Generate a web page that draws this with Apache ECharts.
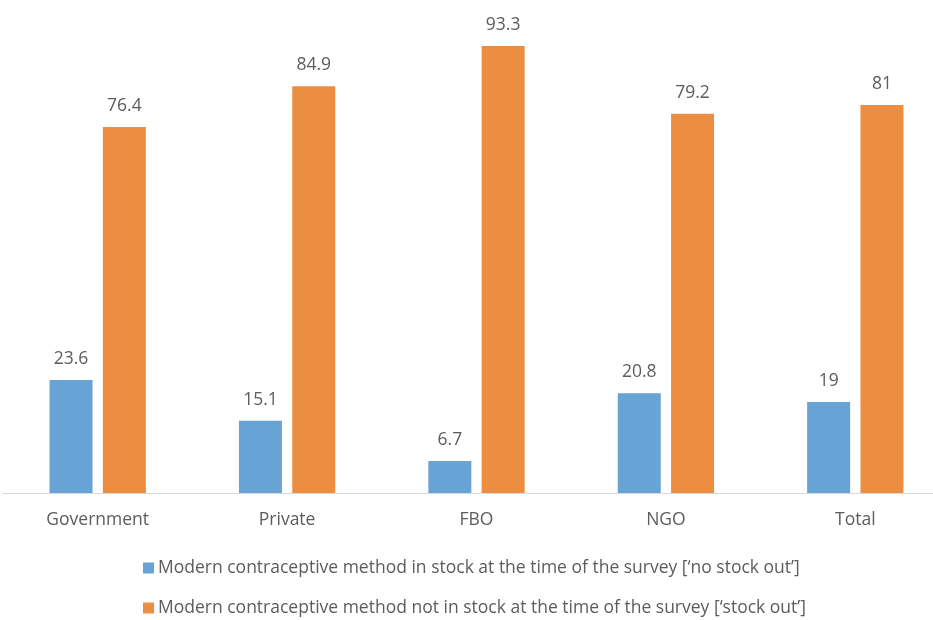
<!DOCTYPE html>
<html>
<head>
<meta charset="utf-8">
<script src="https://cdn.jsdelivr.net/npm/echarts@6/dist/echarts.min.js"></script>
<style>
  html, body { margin: 0; padding: 0; background: #fff; }
  #chart { width: 933px; height: 620px; }
</style>
</head>
<body>
<div id="chart"></div>
<script>
// Facility types
const categories = ['Government', 'Private', 'FBO', 'NGO', 'Total'];
// Percent of facilities with a modern method in stock
const inStock = [23.6, 15.1, 6.7, 20.8, 19];
// Percent of facilities with a stock out
const stockOut = [76.4, 84.9, 93.3, 79.2, 81];

const seriesNames = [
  'Modern contraceptive method in stock at the time of the survey [\u2018no stock out\u2019]',
  'Modern contraceptive method not in stock at the time of the survey [\u2018stock out\u2019]'
];

const font = '"Open Sans", "Noto Sans", sans-serif';
const textColor = '#5c5c5c';
const fontSize = 17.5;

// one legend row per series, stacked under the plot
function legendRow(name, top) {
  return {
    left: 143,
    top: top,
    itemWidth: 11,
    itemHeight: 11,
    icon: 'rect',
    padding: 0,
    textStyle: { color: textColor, fontSize: fontSize, lineHeight: 20, fontFamily: font, padding: [0, 0, 0, -1] },
    data: [name]
  };
}

const chart = echarts.init(document.getElementById('chart'));
chart.setOption({
  animation: false,
  // plot area runs slightly past the right edge of the canvas
  grid: { left: 3, top: 14, width: 947, height: 479, outerBoundsMode: 'none', containLabel: false },
  xAxis: {
    type: 'category',
    data: categories,
    axisLine: { lineStyle: { color: '#d9d9d9', width: 1 } },
    axisTick: { show: false },
    axisLabel: { color: textColor, fontSize: fontSize, fontFamily: font, margin: 18 }
  },
  yAxis: {
    type: 'value',
    min: 0,
    max: 100,
    show: false
  },
  legend: [legendRow(seriesNames[0], 558), legendRow(seriesNames[1], 598)],
  series: [
    {
      name: seriesNames[0],
      type: 'bar',
      data: inStock,
      barWidth: 43,
      barGap: '24%',
      itemStyle: { color: '#68a3d6' },
      label: { show: true, position: 'top', distance: 12, color: textColor, fontSize: fontSize, fontFamily: font }
    },
    {
      name: seriesNames[1],
      type: 'bar',
      data: stockOut,
      barWidth: 43,
      itemStyle: { color: '#ec8e41' },
      label: { show: true, position: 'top', distance: 12, color: textColor, fontSize: fontSize, fontFamily: font }
    }
  ]
});
</script>
</body>
</html>
